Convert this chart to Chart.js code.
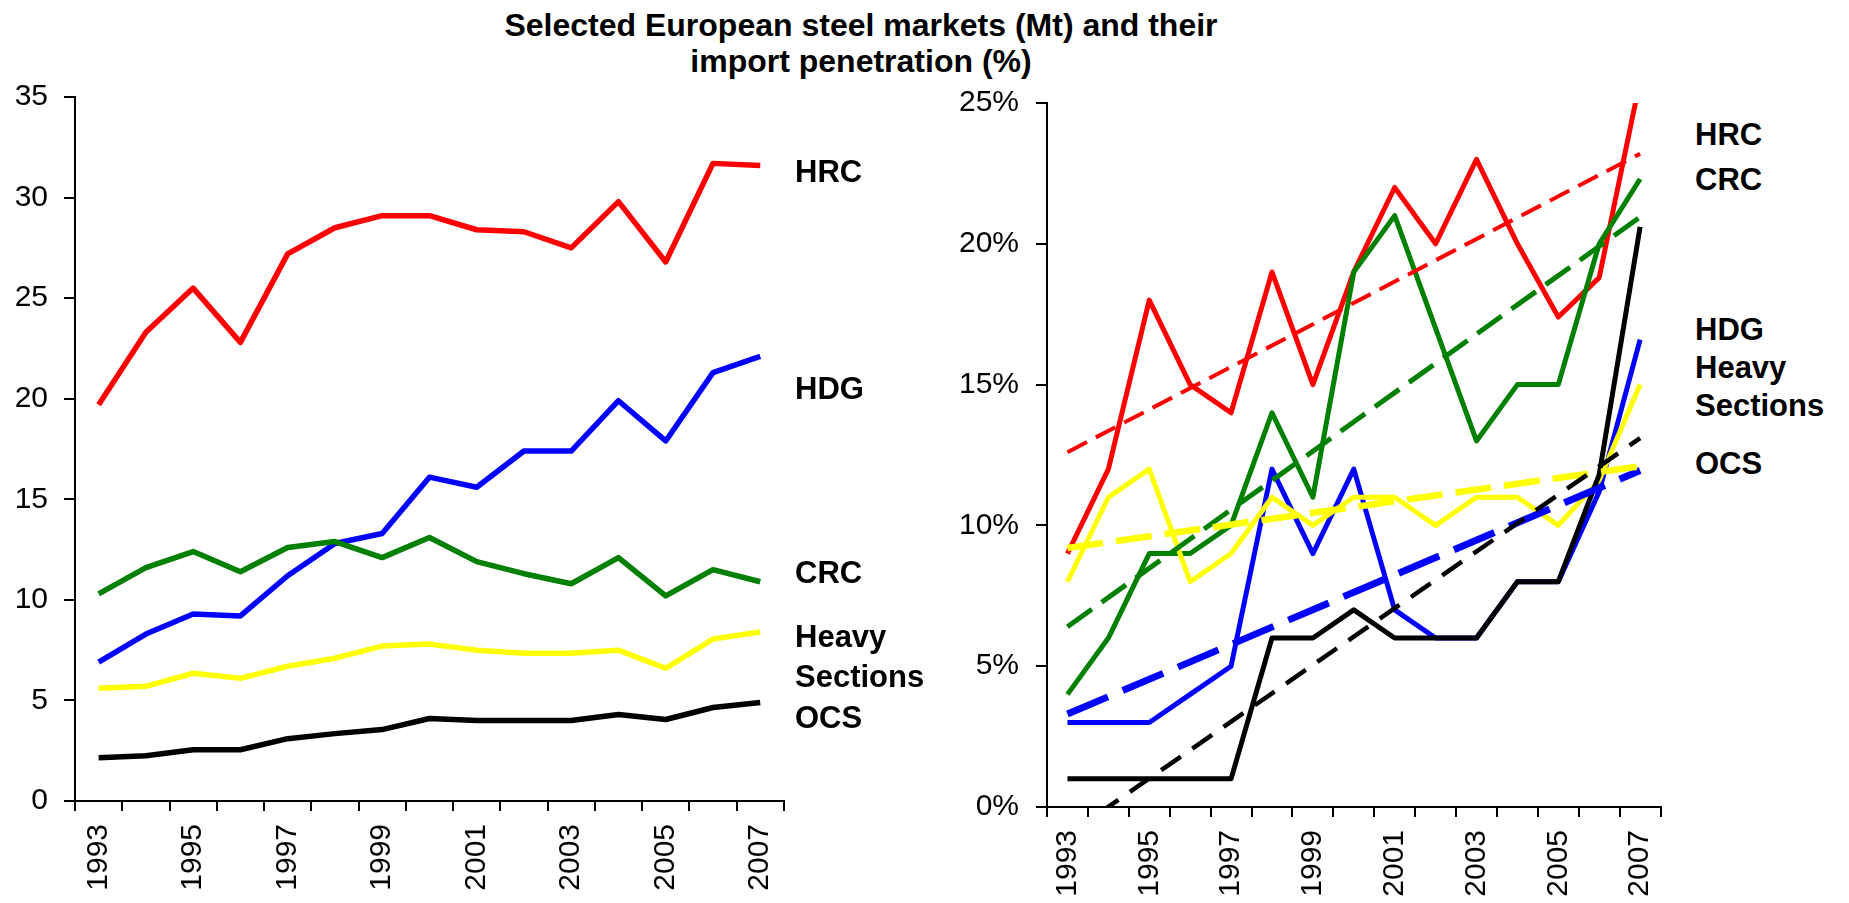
<!DOCTYPE html>
<html>
<head>
<meta charset="utf-8">
<title>Selected European steel markets</title>
<script src="https://cdn.jsdelivr.net/npm/chart.js@4.4.1/dist/chart.umd.min.js"></script>
<style>
  html, body { margin: 0; padding: 0; background: #fff; }
  #page { position: relative; width: 1849px; height: 903px; overflow: hidden;
          font-family: "Liberation Sans", Arial, sans-serif; color: #000; }
  .box { position: absolute; top: 0; }
  .title { position: absolute; left: 361px; top: 7px; width: 1000px; text-align: center;
           font-weight: bold; font-size: 32px; line-height: 36px; }
  .lbl { position: absolute; font-weight: bold; font-size: 31px; line-height: 36px; white-space: nowrap; }
</style>
</head>
<body>
<div id="page">
  <div class="title">Selected European steel markets (Mt) and their<br>import penetration (%)</div>

  <div class="box" style="left:0"><canvas id="markets" width="810" height="903"></canvas></div>
  <div class="box" style="left:930px"><canvas id="imports" width="760" height="903"></canvas></div>

  <!-- series names, left chart -->
  <div class="lbl" style="left:795px; top:154px">HRC</div>
  <div class="lbl" style="left:795px; top:371px">HDG</div>
  <div class="lbl" style="left:795px; top:555px">CRC</div>
  <div class="lbl" style="left:795px; top:619px">Heavy</div>
  <div class="lbl" style="left:795px; top:659px">Sections</div>
  <div class="lbl" style="left:795px; top:700px">OCS</div>

  <!-- series names, right chart -->
  <div class="lbl" style="left:1695px; top:117px">HRC</div>
  <div class="lbl" style="left:1695px; top:162px">CRC</div>
  <div class="lbl" style="left:1695px; top:312px">HDG</div>
  <div class="lbl" style="left:1695px; top:350px">Heavy</div>
  <div class="lbl" style="left:1695px; top:388px">Sections</div>
  <div class="lbl" style="left:1695px; top:446px">OCS</div>
</div>

<script>
const years = ["1993", "1994", "1995", "1996", "1997", "1998", "1999", "2000",
               "2001", "2002", "2003", "2004", "2005", "2006", "2007"];

// market size, Mt
const mktHRC   = [19.7, 23.3, 25.5, 22.8, 27.2, 28.5, 29.1, 29.1, 28.4, 28.3, 27.5, 29.8, 26.8, 31.7, 31.6];
const mktHDG   = [6.9, 8.3, 9.3, 9.2, 11.2, 12.8, 13.3, 16.1, 15.6, 17.4, 17.4, 19.9, 17.9, 21.3, 22.1];
const mktCRC   = [10.3, 11.6, 12.4, 11.4, 12.6, 12.9, 12.1, 13.1, 11.9, 11.3, 10.8, 12.1, 10.2, 11.5, 10.9];
const mktHeavy = [5.6, 5.7, 6.35, 6.1, 6.7, 7.1, 7.7, 7.8, 7.5, 7.35, 7.35, 7.5, 6.6, 8.05, 8.4];
const mktOCS   = [2.15, 2.25, 2.55, 2.55, 3.1, 3.35, 3.55, 4.1, 4.0, 4.0, 4.0, 4.3, 4.05, 4.65, 4.9];

// import penetration, %
const impHRC   = [9, 12, 18, 15, 14, 19, 15, 19, 22, 20, 23, 20, 17.4, 18.8, 25.8];
const impCRC   = [4, 6, 9, 9, 10, 14, 11, 19, 21, 17, 13, 15, 15, 20, 22.3];
const impHDG   = [3, 3, 3, 4, 5, 12, 9, 12, 7, 6, 6, 8, 8, 11.2, 16.6];
const impHeavy = [8, 11, 12, 8, 9, 11, 10, 11, 11, 10, 11, 11, 10, 11.6, 15];
const impOCS   = [1, 1, 1, 1, 1, 6, 6, 7, 6, 6, 6, 8, 8, 11.8, 20.6];

// trend lines: value at 1993 and at 2007
const trendHRC   = [12.6, 23.2];
const trendCRC   = [6.4, 20.95];
const trendHDG   = [3.3, 11.95];
const trendHeavy = [9.2, 12.1];
const trendOCS   = [-1.0, 13.1];

const RED = "#ff0000", GREEN = "#008000", BLUE = "#0000ff", YELLOW = "#ffff00", BLACK = "#000000";

Chart.defaults.font.family = "'Liberation Sans', Arial, sans-serif";
Chart.defaults.color = "#000";

function lineSet(values, color, width) {
  return {
    data: values, borderColor: color, backgroundColor: color, borderWidth: width,
    pointRadius: 0, tension: 0, fill: false,
    borderJoinStyle: "round", borderCapStyle: "butt",
  };
}

function trendSet(ends, color, width, dash) {
  return {
    data: [{ x: years[0], y: ends[0] }, { x: years[years.length - 1], y: ends[1] }],
    borderColor: color, backgroundColor: color, borderWidth: width, borderDash: dash,
    pointRadius: 0, tension: 0, fill: false, borderCapStyle: "butt",
  };
}

function buildOptions(g, yMax, yFmt) {
  return {
    responsive: false,
    animation: false,
    events: [],
    layout: { padding: { top: g.top, right: g.right, left: 0, bottom: 0 } },
    plugins: { legend: { display: false }, tooltip: { enabled: false } },
    scales: {
      x: {
        offset: true,
        grid: { offset: true, drawOnChartArea: false, drawTicks: true, tickLength: 10, color: "#000", lineWidth: 2 },
        border: { display: true, color: "#000", width: 2 },
        ticks: {
          autoSkip: false, maxRotation: 90, minRotation: 90, padding: 13,
          font: { size: 30 },
          callback: (v, i) => (i % 2 === 0 ? years[i] : ""),
        },
        afterFit: (s) => { s.height = g.xHeight; },
      },
      y: {
        min: 0, max: yMax,
        grid: { drawOnChartArea: false, drawTicks: true, tickLength: 11, color: "#000", lineWidth: 2 },
        border: { display: true, color: "#000", width: 2 },
        ticks: { stepSize: 5, padding: g.yPad, font: { size: 30 }, callback: yFmt },
        afterFit: (s) => { s.width = g.yWidth; },
      },
    },
  };
}

// first dataset is drawn on top
new Chart(document.getElementById("markets"), {
  type: "line",
  data: {
    labels: years,
    datasets: [
      lineSet(mktOCS, BLACK, 5.5),
      lineSet(mktHeavy, YELLOW, 5.5),
      lineSet(mktCRC, GREEN, 5.5),
      lineSet(mktHDG, BLUE, 5.5),
      lineSet(mktHRC, RED, 5.5),
    ],
  },
  options: buildOptions({ top: 97, right: 23, yWidth: 75, xHeight: 102, yPad: 16 }, 35, (v) => v),
});

new Chart(document.getElementById("imports"), {
  type: "line",
  data: {
    labels: years,
    datasets: [
      trendSet(trendOCS, BLACK, 4.5, [24, 14]),
      trendSet(trendHeavy, YELLOW, 6.5, [36, 13]),
      trendSet(trendHDG, BLUE, 7, [44, 16]),
      trendSet(trendCRC, GREEN, 5, [30, 12]),
      trendSet(trendHRC, RED, 4, [22, 10]),
      lineSet(impOCS, BLACK, 5),
      lineSet(impHeavy, YELLOW, 5),
      lineSet(impHDG, BLUE, 5),
      lineSet(impCRC, GREEN, 5),
      lineSet(impHRC, RED, 5),
    ],
  },
  options: buildOptions({ top: 103, right: 27, yWidth: 117, xHeight: 96, yPad: 17 }, 25, (v) => v + "%"),
});
</script>
</body>
</html>
